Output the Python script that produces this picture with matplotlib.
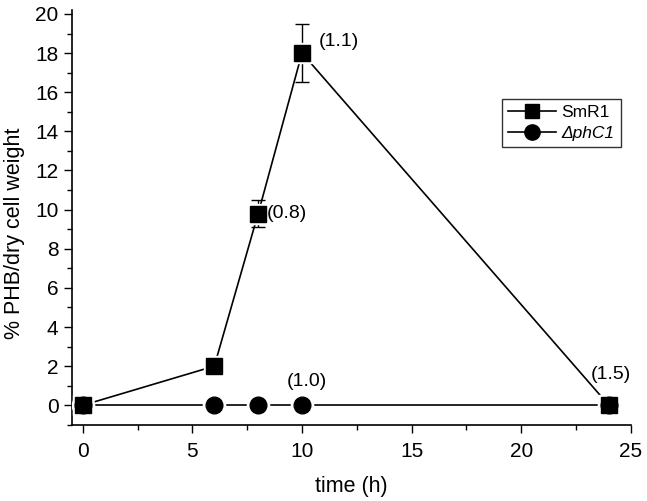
import matplotlib
matplotlib.use('Agg')
from matplotlib import pyplot as plt
from matplotlib.lines import Line2D
from matplotlib.ticker import MultipleLocator

plt.rcParams['font.family'] = ['Liberation Sans', 'DejaVu Sans']

# data
time_h = [0, 6, 8, 10, 24]
smr1 = [0, 2, 9.8, 18, 0]
smr1_err = [0, 0, 0.7, 1.5, 0]
phc1 = [0, 0, 0, 0, 0]
notes = ['(0.8)', '(1.1)', '(1.0)', '(1.5)']
note_x = [8.4, 10.75, 10.2, 24.1]
note_y = [9.8, 18.6, 1.2, 1.55]

fig = plt.figure(figsize=(6.47, 5.01), dpi=100)
ax = fig.add_axes([0.111, 0.152, 0.864, 0.828])

# lines first, white halo markers to leave a gap, then black markers
ax.plot(time_h, smr1, color='black', lw=1.2, zorder=2)
ax.plot(time_h, phc1, color='black', lw=1.2, zorder=2)
ax.errorbar(time_h[2:4], smr1[2:4], yerr=smr1_err[2:4], fmt='none',
            ecolor='black', elinewidth=1.0, capsize=4.7, capthick=1.0, zorder=2)
ax.plot(time_h, smr1, ls='none', marker='s', ms=15, color='white', zorder=3)
ax.plot(time_h, phc1, ls='none', marker='o', ms=16, color='white', zorder=3)
ax.plot(time_h, smr1, ls='none', marker='s', ms=11, color='black', zorder=4)
ax.plot(time_h, phc1, ls='none', marker='o', ms=12, color='black', zorder=4)

# annotations
ax.text(note_x[0], note_y[0], notes[0], fontsize=14, va='center', ha='left')
ax.text(note_x[1], note_y[1], notes[1], fontsize=14, va='center', ha='left')
ax.text(note_x[2], note_y[2], notes[2], fontsize=14, va='center', ha='center')
ax.text(note_x[3], note_y[3], notes[3], fontsize=14, va='center', ha='center')

ax.set_xlim(-0.5, 25)
ax.set_ylim(-1, 20.2)
ax.xaxis.set_major_locator(MultipleLocator(5))
ax.xaxis.set_minor_locator(MultipleLocator(2.5))
ax.yaxis.set_major_locator(MultipleLocator(2))
ax.yaxis.set_minor_locator(MultipleLocator(1))
ax.tick_params(which='major', direction='out', length=6, width=1.0, labelsize=15)
ax.tick_params(which='minor', direction='out', length=3.5, width=1.0)
ax.tick_params(axis='x', which='major', pad=6.2)
ax.spines['top'].set_visible(False)
ax.spines['right'].set_visible(False)
ax.spines['left'].set_linewidth(1.2)
ax.spines['bottom'].set_linewidth(1.2)

ax.set_xlabel('time (h)', fontsize=15.5, labelpad=10.7)
ax.set_ylabel('% PHB/dry cell weight', fontsize=15.5)
ax.yaxis.set_label_coords(-0.083, 0.461)

handles = [Line2D([], [], color='black', marker='s', ms=10, lw=1.2),
           Line2D([], [], color='black', marker='o', ms=11, lw=1.2)]
leg = ax.legend(handles, ['SmR1', '\u0394phC1'], loc='upper left',
                bbox_to_anchor=(0.769, 0.786), fontsize=12.5, frameon=True,
                fancybox=False, edgecolor='black', handlelength=2.8,
                borderpad=0.35, labelspacing=0.35, handletextpad=0.3,
                borderaxespad=0)
leg.get_frame().set_linewidth(1.0)
leg.get_texts()[1].set_style('italic')

fig.savefig('out.png', dpi=100)
